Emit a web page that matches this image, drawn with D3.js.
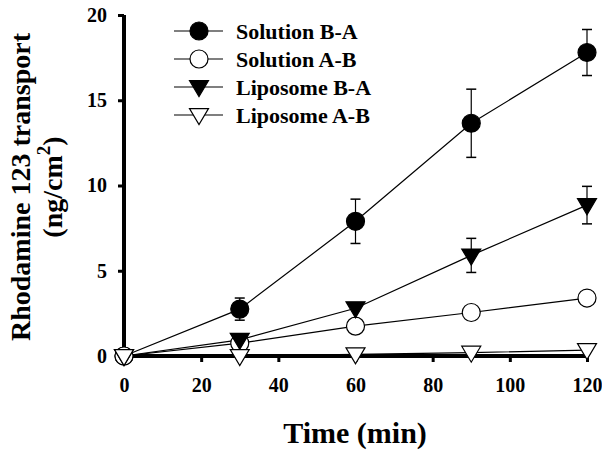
<!DOCTYPE html>
<html><head><meta charset="utf-8">
<script src="https://cdn.jsdelivr.net/npm/d3@7"></script>
<style>html,body{margin:0;padding:0;background:#fff;}svg{display:block;}</style>
</head><body>
<svg id="c" width="602" height="450"></svg>
<script>
const times = [0, 30, 60, 90, 120];
const solBA = [0, 2.75, 7.9, 13.65, 17.8];
const solBAerr = [0, 0.65, 1.3, 2.0, 1.35];
const solAB = [0, 0.75, 1.75, 2.55, 3.4];
const lipBA = [0, 0.95, 2.8, 5.9, 8.85];
const lipBAerr = [0, 0, 0, 1.0, 1.1];
const lipAB = [0, 0, 0.1, 0.2, 0.35];
const xTicks = [0, 20, 40, 60, 80, 100, 120];
const yTicks = [0, 5, 10, 15, 20];
const seriesNames = ["Solution B-A", "Solution A-B", "Liposome B-A", "Liposome A-B"];

const series = [
  {name: seriesNames[0], vals: solBA, err: solBAerr, shape: "circle", fill: "#000"},
  {name: seriesNames[1], vals: solAB, err: null, shape: "circle", fill: "#fff"},
  {name: seriesNames[2], vals: lipBA, err: lipBAerr, shape: "tri", fill: "#000"},
  {name: seriesNames[3], vals: lipAB, err: null, shape: "tri", fill: "#fff"}
];

const svg = d3.select("#c");
const font = "'Liberation Serif','Times New Roman',serif";
const x = d3.scaleLinear().domain([0, 120]).range([124, 587]);
const y = d3.scaleLinear().domain([0, 20]).range([356, 15]);

// axes
const xAxis = svg.append("g").attr("transform", "translate(0,356)")
  .call(d3.axisBottom(x).tickValues(xTicks).tickSize(6).tickPadding(16).tickFormat(d3.format("d")));
const yAxis = svg.append("g").attr("transform", "translate(124,0)")
  .call(d3.axisLeft(y).tickValues(yTicks).tickSize(6).tickPadding(11).tickFormat(d3.format("d")));
[xAxis, yAxis].forEach(g => {
  g.select(".domain").attr("stroke", "#000").attr("stroke-width", 4);
  g.selectAll(".tick line").attr("stroke", "#000").attr("stroke-width", 3);
  g.selectAll(".tick text").attr("font-family", font).attr("font-weight", "bold")
    .attr("font-size", 20).attr("fill", "#000");
});
xAxis.select(".domain").attr("d", `M${x(0)},0H${x(120)}`);
yAxis.select(".domain").attr("d", `M0,${y(20)}V${y(0)}`);

// titles
svg.append("text").attr("transform", "translate(355,443)").attr("text-anchor", "middle")
  .attr("font-family", font).attr("font-weight", "bold").attr("font-size", 30).text("Time (min)");
const yt = svg.append("text").attr("transform", "translate(30,187) rotate(-90)").attr("text-anchor", "middle")
  .attr("font-family", font).attr("font-weight", "bold").attr("font-size", 28);
yt.append("tspan").attr("x", 0).attr("dy", 0).text("Rhodamine 123 transport");
const t2 = yt.append("tspan").attr("x", 0).attr("dy", 32);
t2.append("tspan").text("(ng/cm");
t2.append("tspan").attr("dy", -12).attr("font-size", 19).text("2");
t2.append("tspan").attr("dy", 12).text(")");

function marker(g, s, cx, cy) {
  if (s.shape === "circle") {
    g.append("circle").attr("cx", cx).attr("cy", cy).attr("r", 9)
      .attr("fill", s.fill).attr("stroke", "#000").attr("stroke-width", 1.2);
  } else {
    const w = 9.5, h = 16;
    g.append("path").attr("d", `M${cx - w},${cy - h * 0.4}L${cx + w},${cy - h * 0.4}L${cx},${cy + h * 0.6}Z`)
      .attr("fill", s.fill).attr("stroke", "#000").attr("stroke-width", 1.2);
  }
}

const line = d3.line().x((d, i) => x(times[i])).y(d => y(d));
const plot = svg.append("g");
series.forEach(s => {
  plot.append("path").datum(s.vals).attr("d", line).attr("fill", "none")
    .attr("stroke", "#000").attr("stroke-width", 1.2);
});
series.forEach(s => {
  if (!s.err) return;
  s.vals.forEach((v, i) => {
    const e = s.err[i];
    if (!e) return;
    const cx = x(times[i]);
    plot.append("line").attr("x1", cx).attr("x2", cx).attr("y1", y(v - e)).attr("y2", y(v + e))
      .attr("stroke", "#000").attr("stroke-width", 1.2);
    [v - e, v + e].forEach(t => plot.append("line").attr("x1", cx - 5).attr("x2", cx + 5)
      .attr("y1", y(t)).attr("y2", y(t)).attr("stroke", "#000").attr("stroke-width", 1.5));
  });
});
series.forEach(s => {
  s.vals.forEach((v, i) => marker(plot, s, x(times[i]), y(v)));
});

// legend
const lg = svg.append("g");
series.forEach((s, i) => {
  const cy = 31 + i * 28;
  lg.append("line").attr("x1", 174).attr("x2", 223).attr("y1", cy).attr("y2", cy)
    .attr("stroke", "#000").attr("stroke-width", 1.2);
  marker(lg, s, 199, cy);
  lg.append("text").attr("x", 236).attr("y", cy + 7.5).attr("font-family", font)
    .attr("font-weight", "bold").attr("font-size", 22).text(s.name);
});
</script>
</body></html>
